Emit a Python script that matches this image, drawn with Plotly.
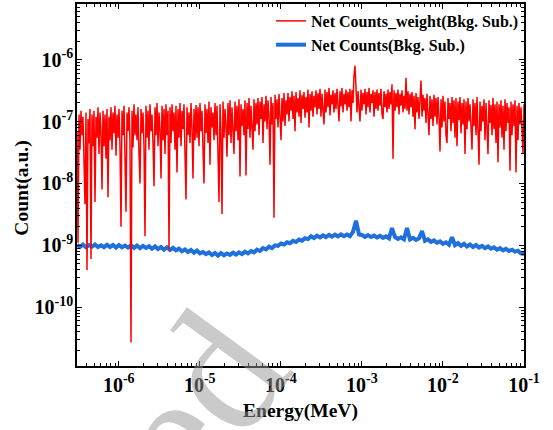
import numpy as np
import plotly.graph_objects as go

# Energy range of the spectrum (MeV), log10 limits of the binning
E_MIN_LOG, E_MAX_LOG = -6.515, -1.0

# Net Counts_weight (Bkg. Sub.) -- values in units of 1e-9 a.u.
weight_counts_n = [
    70, 1.1, 130, 35, 150, 60, 120, 30, 4.6, 140, 0.4, 110, 45, 160, 0.6, 130, 40, 150, 5, 120, 55, 170, 30, 140, 70, 8, 150, 40, 130, 25,
    160, 6, 120, 50, 170, 35, 140, 65, 180, 28, 130, 55, 160, 40, 2, 150, 60, 180, 35, 3.5, 140, 70, 170, 45, 0.027, 150, 38, 190, 60, 130,
    50, 170, 30, 10, 160, 65, 140, 40, 1.4, 180, 55, 150, 35, 190, 70, 130, 45, 9, 170, 60, 200, 40, 140, 75, 12, 180, 50, 160, 30, 190,
    60, 150, 0.85, 170, 45, 190, 70, 140, 35, 180, 15, 160, 55, 200, 40, 150, 75, 190, 30, 5.5, 170, 60, 140, 45, 200, 80, 12, 160, 50, 185,
    55, 170, 40, 200, 70, 150, 35, 10, 190, 65, 160, 45, 210, 20, 170, 80, 140, 50, 200, 60, 180, 40, 5, 190, 70, 3.2, 210, 55, 160, 85,
    27, 200, 60, 220, 45, 170, 90, 30, 210, 70, 180, 50, 230, 13, 190, 85, 160, 60, 220, 13.5, 200, 75, 240, 55, 180, 95, 35, 230, 70, 200,
    90, 240, 60, 210, 110, 250, 45, 190, 100, 260, 75, 220, 120, 20, 250, 90, 200, 2.8, 270, 110, 230, 80, 280, 120, 50, 240, 100, 290, 85, 220,
    130, 290, 100, 250, 150, 310, 110, 260, 70, 300, 140, 240, 120, 320, 95, 270, 160, 300, 115, 250, 140, 330, 80, 280, 150, 310, 120, 260, 170, 320,
    130, 290, 160, 340, 120, 280, 180, 90, 330, 140, 300, 170, 350, 125, 270, 190, 320, 140, 290, 160, 340, 130, 100, 310, 175, 350, 140, 280, 190, 330,
    150, 300, 170, 340, 100, 320, 200, 550, 800, 350, 140, 310, 180, 100, 330, 150, 290, 190, 340, 130, 300, 170, 350, 140, 280, 200, 320, 120, 300, 160,
    330, 150, 290, 180, 340, 130, 110, 310, 170, 280, 140, 330, 160, 300, 190, 400, 25, 320, 150, 290, 170, 330, 130, 280, 180, 320, 140, 260, 160, 510,
    150, 310, 130, 280, 170, 300, 120, 260, 75, 290, 140, 250, 110, 300, 460, 120, 270, 150, 240, 95, 280, 130, 60, 260, 110, 230, 85, 270, 120, 240,
    90, 250, 120, 33, 230, 80, 260, 100, 210, 60, 45, 240, 110, 200, 70, 250, 95, 220, 55, 240, 40, 210, 105, 250, 65, 200, 90, 230, 30, 210,
    75, 240, 100, 190, 55, 35, 230, 85, 200, 60, 250, 90, 20, 210, 70, 180, 100, 230, 50, 200, 80, 30, 220, 95, 185, 60, 240, 75, 190, 45,
    210, 22, 190, 80, 220, 55, 180, 35, 230, 70, 200, 95, 170, 16, 210, 60, 190, 85, 220, 15, 180, 50, 200, 90, 170, 65, 30, 190,
]

# Net Counts (Bkg. Sub.) -- values in units of 1e-9 a.u.
net_counts_n = [
    1.02, 0.94, 1.03, 0.93, 1.01, 0.95, 1.03, 0.94, 1.0, 0.93, 1.02, 0.94, 1.01, 0.92, 1.01, 0.93,
    0.99, 0.92, 1.0, 0.91, 0.99, 0.9, 0.98, 0.91, 0.97,
    0.88, 0.96, 0.87, 0.94, 0.85, 0.93, 0.84, 0.91, 0.83,
    0.88, 0.8, 0.86, 0.78, 0.84, 0.76, 0.82, 0.74,
    0.78, 0.72, 0.77, 0.7, 0.75, 0.68, 0.75, 0.69, 0.74,
    0.7, 0.76, 0.71, 0.77, 0.72, 0.79, 0.74, 0.81,
    0.77, 0.85, 0.81, 0.9, 0.86, 0.95, 0.9, 1.0,
    0.98, 1.07, 1.03, 1.12, 1.08, 1.18, 1.13, 1.24, 1.19, 1.3, 1.26,
    1.4, 1.31, 1.43, 1.34, 1.45, 1.36, 1.47, 1.38, 1.49, 1.39, 1.5, 1.4, 1.49, 1.41,
    1.65, 2.5, 1.5,
    1.47, 1.37, 1.46, 1.36, 1.44, 1.34, 1.42, 1.32, 1.4, 1.3,
    1.9,
    1.36, 1.27, 1.35, 1.25,
    1.9,
    1.24, 1.32, 1.22, 1.3,
    1.7,
    1.18, 1.25, 1.14, 1.2, 1.1, 1.16, 1.06, 1.12, 1.02,
    1.35,
    1.01, 1.09, 0.98, 1.06, 0.96, 1.03, 0.94, 1.01, 0.92, 0.98, 0.9, 0.96, 0.88, 0.93,
    0.85, 0.9, 0.83, 0.88, 0.81, 0.85, 0.79, 0.82, 0.74, 0.72,
]

UNIT = 1e-9
x_tick_exps = [-6, -5, -4, -3, -2, -1]
y_tick_exps = [-10, -9, -8, -7, -6]

# energy bins (log-spaced) for each series
e_weight = np.logspace(E_MIN_LOG, E_MAX_LOG, len(weight_counts_n))
e_net = np.logspace(E_MIN_LOG, E_MAX_LOG, len(net_counts_n))

FONT = "Liberation Serif"

fig = go.Figure()
fig.add_trace(go.Scatter(
    x=e_net, y=np.array(net_counts_n) * UNIT, mode="lines",
    name="Net Counts(Bkg. Sub.)",
    line=dict(color="#1f6fdc", width=4),
))
fig.add_trace(go.Scatter(
    x=e_weight, y=np.array(weight_counts_n) * UNIT, mode="lines",
    name="Net Counts_weight(Bkg. Sub.)",
    line=dict(color="#ff0000", width=1.5),
))

x_minor = [k * 10.0 ** n for n in range(-7, 0) for k in range(2, 10)]
y_minor = [k * 10.0 ** n for n in range(-12, -4) for k in range(2, 10)]

axis_common = dict(
    showline=True, linecolor="black", linewidth=1.5, mirror="allticks",
    ticks="inside", ticklen=5, tickwidth=1.2, tickcolor="black",
    showgrid=False, zeroline=False,
    tickfont=dict(family=FONT, size=20, color="black", weight="bold"),
)

fig.update_xaxes(
    type="log", range=[E_MIN_LOG, E_MAX_LOG],
    tickvals=[10.0 ** e for e in x_tick_exps],
    ticktext=[f"10<sup>{e}</sup>" for e in x_tick_exps],
    minor=dict(ticks="inside", ticklen=3, tickwidth=1, tickcolor="black", tickvals=x_minor),
    title=dict(text="Energy(MeV)", font=dict(family=FONT, size=19.5, color="black", weight="bold"), standoff=9),
    **axis_common,
)
fig.update_yaxes(
    type="log", range=[-10.95, -5.1],
    tickvals=[10.0 ** e for e in y_tick_exps],
    ticktext=[f"10<sup>{e}</sup>" for e in y_tick_exps],
    ticklabelstandoff=-2,
    minor=dict(ticks="inside", ticklen=3, tickwidth=1, tickcolor="black", tickvals=y_minor),
    **axis_common,
)

# y-axis title
fig.add_annotation(
    text="Count(a.u.)", xref="paper", yref="paper", x=-0.123, y=0.49,
    xanchor="center", yanchor="middle", showarrow=False, textangle=-90,
    font=dict(family=FONT, size=19.5, color="black", weight="bold"),
)

# watermark
fig.add_annotation(
    text="Accepted", xref="paper", yref="paper", x=-0.067, y=-0.674,
    xanchor="center", yanchor="middle",
    showarrow=False, textangle=-54,
    font=dict(family=FONT, size=180, color="rgba(150,150,150,0.5)"),
)

fig.update_layout(
    width=553, height=430,
    margin=dict(l=77, r=29, t=4, b=64, autoexpand=False),
    paper_bgcolor="white", plot_bgcolor="white",
    showlegend=True,
    legend=dict(
        x=1.0, y=1.0, xanchor="right", yanchor="top",
        traceorder="reversed", bgcolor="rgba(0,0,0,0)",
        font=dict(family=FONT, size=16, color="black", weight="bold"),
        tracegroupgap=0, itemwidth=30,
    ),
)

fig.write_html("out.html")
